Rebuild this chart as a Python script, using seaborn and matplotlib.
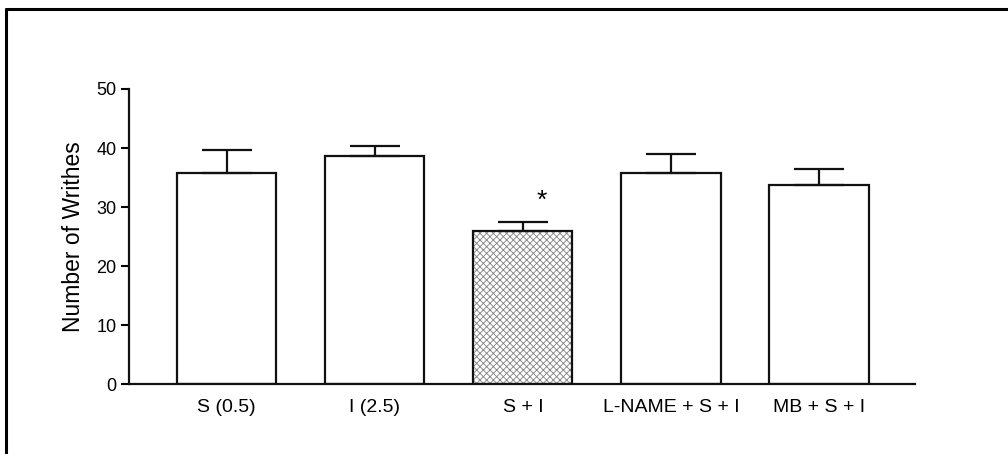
import numpy as np
import matplotlib
matplotlib.use("Agg")
import matplotlib.pyplot as plt
import seaborn as sns
import pandas as pd
from matplotlib.lines import Line2D

# data
groups = ["S (0.5)", "I (2.5)", "S + I", "L-NAME + S + I", "MB + S + I"]
writhes = [35.8, 38.6, 26.0, 35.8, 33.8]
sem = [3.9, 1.8, 1.5, 3.2, 2.6]
star_group = 2

sns.set_style("ticks")
plt.rcParams["font.family"] = ["Liberation Sans", "DejaVu Sans"]
plt.rcParams["text.color"] = "black"
plt.rcParams["axes.labelcolor"] = "black"
plt.rcParams["xtick.color"] = "black"
plt.rcParams["ytick.color"] = "black"
plt.rcParams["hatch.linewidth"] = 0.6

df = pd.DataFrame({"group": groups, "writhes": writhes})

fig = plt.figure(figsize=(10.08, 4.54), dpi=100)
ax = fig.add_axes([0.128, 0.154, 0.78, 0.65])

sns.barplot(data=df, x="group", y="writhes", order=groups, color="white",
            edgecolor="#111111", linewidth=1.6, width=0.67, errorbar=None, ax=ax)

# upper error bars only
ax.errorbar(np.arange(len(groups)), writhes, yerr=[np.zeros(len(sem)), sem],
            fmt="none", ecolor="#111111", elinewidth=1.6, capsize=18, capthick=1.6,
            zorder=1)

# hatched bar for the combination group
p = ax.patches[star_group]
p.set_hatch("xxxxx")
p.set_edgecolor("#808080")
p.set_linewidth(0)
ax.add_patch(plt.Rectangle((p.get_x(), p.get_y()), p.get_width(), p.get_height(),
                           fill=False, edgecolor="#111111", linewidth=1.6, zorder=3))

ax.text(star_group + 0.13, writhes[star_group] + sem[star_group] + 3.5, "*",
        ha="center", va="center", fontsize=19, color="black")

ax.set_ylim(0, 50)
ax.set_xlim(-0.66, 4.65)
ax.set_yticks([0, 10, 20, 30, 40, 50])
ax.set_xlabel("")
ax.set_ylabel("Number of Writhes", fontsize=16.5, labelpad=8)
ax.tick_params(axis="y", labelsize=13, length=6, width=1.5, direction="out", pad=3)
ax.tick_params(axis="x", labelsize=14, length=0, pad=11)
for s in ["left", "bottom"]:
    ax.spines[s].set_linewidth(1.6)
    ax.spines[s].set_color("#111111")
sns.despine(ax=ax)

# frame lines at top and left of the picture
fig.add_artist(Line2D([0.006, 1.0], [0.981, 0.981], color="black", lw=2.2,
                      transform=fig.transFigure))
fig.add_artist(Line2D([0.006, 0.006], [0.0, 0.981], color="black", lw=2.2,
                      transform=fig.transFigure))

fig.savefig("out.png", dpi=100)
